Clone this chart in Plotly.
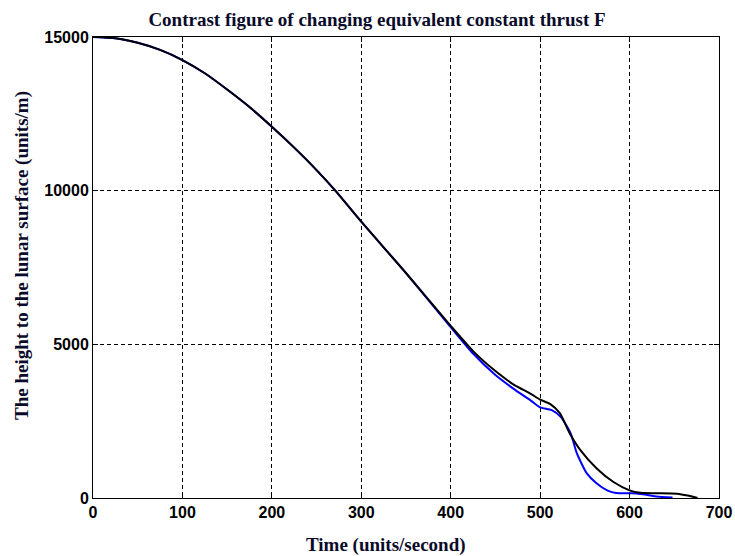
import plotly.graph_objects as go

# Black curve (time in s, height in m)
black_t = [0, 25, 50, 75, 100, 125, 150, 175, 200, 225, 250, 271, 300, 350, 400, 425, 450, 470, 490, 500, 511, 522, 533, 545, 563, 582, 600, 612, 653, 665, 676]
black_h = [15000, 14960, 14810, 14580, 14250, 13820, 13290, 12720, 12080, 11400, 10670, 10000, 8990, 7320, 5600, 4780, 4130, 3700, 3380, 3200, 3060, 2760, 2110, 1560, 970, 520, 250, 170, 140, 80, 0]

# Blue curve
blue_t = [0, 25, 50, 75, 100, 125, 150, 175, 200, 225, 250, 271, 300, 350, 400, 425, 450, 470, 490, 500, 513, 523, 534, 541, 552, 563, 575, 585, 608, 620, 630, 648]
blue_h = [15000, 14960, 14810, 14580, 14250, 13820, 13290, 12720, 12080, 11400, 10670, 10000, 8990, 7320, 5560, 4700, 4000, 3560, 3160, 2950, 2860, 2640, 2110, 1460, 810, 480, 250, 160, 150, 100, 50, 20]

x_ticks = [0, 100, 200, 300, 400, 500, 600, 700]
y_ticks = [0, 5000, 10000, 15000]

W, H = 735, 556

fig = go.Figure()
fig.add_trace(go.Scatter(x=blue_t, y=blue_h, mode="lines",
                         line=dict(color="#0000ff", width=2, shape="spline", smoothing=0.6),
                         showlegend=False))
fig.add_trace(go.Scatter(x=black_t, y=black_h, mode="lines",
                         line=dict(color="#000000", width=2, shape="spline", smoothing=0.6),
                         showlegend=False))

tick_font = dict(family="Liberation Sans", size=16, color="black", weight="bold")
label_font = dict(family="Liberation Serif", size=19, color="#0a0a2a")
axis_common = dict(showgrid=True, gridcolor="black", griddash="4px,3px", gridwidth=1,
                   showline=True, linecolor="black", linewidth=1, mirror="ticks",
                   ticks="inside", ticklen=5, tickcolor="black",
                   tickfont=tick_font, zeroline=False, automargin=False)

fig.update_layout(
    width=W, height=H,
    margin=dict(l=93, r=16, t=37, b=58),
    paper_bgcolor="white", plot_bgcolor="white",
    title=dict(text="<b>Contrast figure of changing equivalent constant thrust F</b>",
               xref="container", yref="container",
               x=377 / W, xanchor="center", y=1 - 19 / H, yanchor="middle",
               font=dict(family="Liberation Serif", size=19, color="#0a0a2a")),
    xaxis=dict(range=[0, 700], tickvals=x_ticks, ticktext=[str(v) for v in x_ticks], **axis_common),
    yaxis=dict(range=[0, 15000], tickvals=y_ticks, ticktext=[str(v) for v in y_ticks], **axis_common),
    annotations=[
        dict(text="<b>Time (units/second)</b>", xref="paper", yref="paper",
             x=0.468, y=-0.102, xanchor="center", yanchor="middle",
             showarrow=False, font=label_font),
        dict(text="<b>The height to the lunar surface (units/m)</b>", xref="paper", yref="paper",
             x=-0.1134, y=0.525, xanchor="center", yanchor="middle", textangle=-90,
             showarrow=False, font=label_font),
    ],
)

fig.write_html("out.html", config={"displayModeBar": False},
               post_script="document.body.style.margin='0';document.body.style.overflow='hidden';")
